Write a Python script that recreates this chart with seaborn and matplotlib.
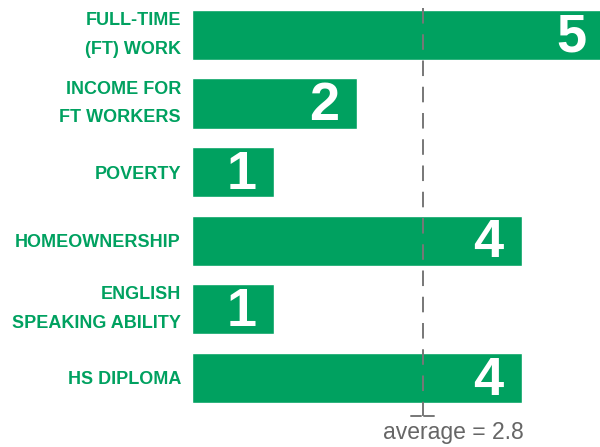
import matplotlib
matplotlib.use("Agg")
import matplotlib.pyplot as plt
import seaborn as sns
import pandas as pd

# data
categories = ["FULL-TIME\n(FT) WORK", "INCOME FOR\nFT WORKERS", "POVERTY",
              "HOMEOWNERSHIP", "ENGLISH\nSPEAKING ABILITY", "HS DIPLOMA"]
scores = [5, 2, 1, 4, 1, 4]
average = 2.8

green = "#00A160"
grey = "#777777"

df = pd.DataFrame({"category": categories, "score": scores})

sns.set_style("white")
plt.rcParams["font.family"] = ["Liberation Sans", "DejaVu Sans"]

fig = plt.figure(figsize=(6, 4.47), dpi=100)
ax = fig.add_axes([0.32, 0.0783, 0.68, 0.9217])

sns.barplot(data=df, x="score", y="category", orient="h", color=green,
            saturation=1, width=0.73, ax=ax)

ax.set_xlim(0, 4.95)
ax.set_ylim(5.5, -0.51)
ax.set_xlabel("")
ax.set_ylabel("")
ax.set_xticks([])
sns.despine(ax=ax, left=True, bottom=True)
ax.tick_params(axis="y", length=0, pad=8)
for lab in ax.get_yticklabels():
    lab.set_color(green)
    lab.set_fontweight("bold")
    lab.set_fontsize(13)
    lab.set_linespacing(1.9)
    # two-line labels need plain centering, single lines sit on the baseline
    lab.set_va("center" if "\n" in lab.get_text() else "center_baseline")

# big white value labels inside bar ends
for i, v in enumerate(scores):
    ax.annotate(str(v), xy=(v, i), xytext=(-13, -2), textcoords="offset points",
                ha="right", va="center", color="white", fontsize=39,
                fontweight="bold", annotation_clip=False)

# average line with small bracket at the bottom
ax.plot([average, average], [-0.39, 5.56], color=grey, lw=1.4,
        linestyle=(0, (8, 5.5)), clip_on=False, zorder=3)
ax.plot([average - 0.14, average - 0.02], [5.56, 5.56], color=grey, lw=1.4, clip_on=False)
ax.plot([average + 0.02, average + 0.14], [5.56, 5.56], color=grey, lw=1.4, clip_on=False)
ax.annotate(f"average = {average}", xy=(average, 5.8), xytext=(-29, 0),
            textcoords="offset points", ha="left", va="center",
            color="#666666", fontsize=16.5, annotation_clip=False)

fig.savefig("out.png", dpi=100)
